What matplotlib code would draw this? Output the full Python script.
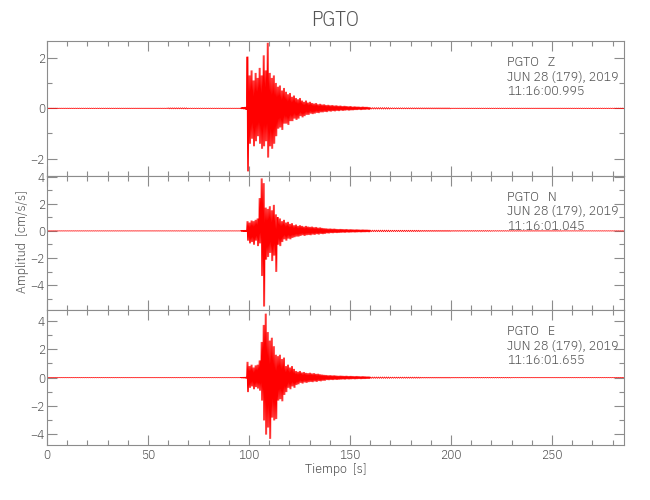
import numpy as np
import matplotlib
matplotlib.use("Agg")
import matplotlib.pyplot as plt
from matplotlib.ticker import MultipleLocator

# ---------------- data ----------------
station = "PGTO"
components = ["Z", "N", "E"]
date_label = "JUN 28 (179), 2019"
start_times = ["11:16:00.995", "11:16:01.045", "11:16:01.655"]

x_max = 285.6
y_limits = [(-2.68, 2.68), (-5.85, 4.07), (-4.75, 4.75)]

# quiet pre-event noise, sampled every 5 s from 0 to 95 s (amplitude)
t_pre = np.arange(0, 100, 5)
pre_Z = [0.01, 0.01, 0.01, 0.01, 0.01, 0.01, 0.01, 0.01, 0.01, 0.01,
         0.01, 0.01, 0.02, 0.02, 0.01, 0.01, 0.01, 0.01, 0.01, 0.01]
pre_N = [0.01, 0.01, 0.01, 0.01, 0.01, 0.01, 0.01, 0.01, 0.01, 0.01,
         0.01, 0.01, 0.01, 0.01, 0.01, 0.01, 0.01, 0.01, 0.01, 0.01]
pre_E = [0.01, 0.01, 0.01, 0.01, 0.01, 0.01, 0.01, 0.01, 0.01, 0.01,
         0.01, 0.01, 0.01, 0.01, 0.01, 0.01, 0.01, 0.01, 0.01, 0.01]

# active part, one (max, min) pair per second from 96 to 159 s
t_act = np.arange(96, 160, 1)
max_Z = [0.02, 0.03, 0.05, 2.05, 1.30, 1.50, 1.10, 1.40, 1.20, 1.60,
         1.30, 2.10, 1.50, 2.60, 1.40, 1.20, 1.30, 1.00, 0.85, 0.90,
         0.70, 0.80, 0.65, 0.55, 0.60, 0.45, 0.50, 0.40, 0.35, 0.40,
         0.30, 0.25, 0.30, 0.22, 0.25, 0.20, 0.18, 0.20, 0.15, 0.17,
         0.14, 0.15, 0.12, 0.13, 0.11, 0.12, 0.10, 0.11, 0.09, 0.10,
         0.08, 0.09, 0.08, 0.07, 0.08, 0.06, 0.07, 0.06, 0.06, 0.05,
         0.06, 0.05, 0.05, 0.04]
min_Z = [-0.02, -0.03, -0.05, -2.50, -1.40, -1.20, -1.50, -1.30, -1.10, -1.40,
         -1.60, -1.50, -1.30, -1.95, -1.50, -1.60, -1.40, -1.10, -0.80, -0.75,
         -0.85, -0.60, -0.60, -0.65, -0.50, -0.50, -0.40, -0.45, -0.40, -0.30,
         -0.35, -0.30, -0.25, -0.25, -0.20, -0.22, -0.20, -0.17, -0.18, -0.15,
         -0.15, -0.13, -0.14, -0.11, -0.12, -0.10, -0.11, -0.09, -0.10, -0.08,
         -0.09, -0.08, -0.07, -0.08, -0.07, -0.07, -0.06, -0.06, -0.05, -0.06,
         -0.05, -0.05, -0.04, -0.05]
max_N = [0.02, 0.03, 0.05, 0.70, 0.60, 0.75, 0.70, 0.80, 0.90, 2.40,
         3.85, 3.50, 1.70, 1.60, 1.80, 1.50, 1.90, 1.20, 1.00, 0.90,
         0.70, 0.80, 0.60, 0.65, 0.50, 0.55, 0.40, 0.45, 0.35, 0.40,
         0.35, 0.30, 0.35, 0.30, 0.28, 0.30, 0.25, 0.27, 0.22, 0.24,
         0.20, 0.18, 0.17, 0.15, 0.16, 0.14, 0.15, 0.13, 0.12, 0.13,
         0.12, 0.11, 0.12, 0.10, 0.11, 0.10, 0.09, 0.10, 0.09, 0.08,
         0.09, 0.08, 0.08, 0.07]
min_N = [-0.02, -0.03, -0.05, -0.70, -0.90, -0.80, -1.00, -0.70, -1.10, -0.90,
         -3.30, -5.55, -2.10, -1.90, -1.60, -2.20, -1.80, -3.00, -1.00, -1.10,
         -0.80, -0.60, -0.70, -0.55, -0.60, -0.50, -0.45, -0.40, -0.40, -0.35,
         -0.30, -0.35, -0.30, -0.28, -0.30, -0.25, -0.27, -0.22, -0.25, -0.20,
         -0.22, -0.20, -0.16, -0.17, -0.14, -0.15, -0.13, -0.14, -0.13, -0.12,
         -0.11, -0.12, -0.10, -0.11, -0.10, -0.09, -0.10, -0.09, -0.08, -0.09,
         -0.08, -0.08, -0.07, -0.08]
max_E = [0.02, 0.03, 0.04, 1.10, 0.80, 0.90, 0.70, 0.85, 0.90, 1.20,
         2.50, 3.70, 4.50, 3.20, 2.60, 2.80, 2.20, 1.60, 1.50, 1.60,
         1.30, 1.40, 0.80, 0.90, 0.70, 0.80, 0.60, 0.45, 0.40, 0.45,
         0.35, 0.38, 0.32, 0.30, 0.33, 0.28, 0.30, 0.25, 0.26, 0.22,
         0.20, 0.18, 0.17, 0.15, 0.16, 0.14, 0.15, 0.13, 0.12, 0.13,
         0.12, 0.11, 0.12, 0.10, 0.11, 0.10, 0.09, 0.10, 0.09, 0.08,
         0.09, 0.08, 0.07, 0.07]
min_E = [-0.02, -0.03, -0.04, -1.00, -0.70, -0.60, -0.80, -0.65, -0.75, -0.90,
         -1.60, -3.00, -4.00, -3.50, -4.30, -2.80, -3.00, -2.90, -1.60, -1.50,
         -1.65, -1.20, -1.00, -0.70, -0.80, -0.60, -0.70, -0.50, -0.45, -0.35,
         -0.40, -0.32, -0.35, -0.30, -0.28, -0.30, -0.25, -0.28, -0.22, -0.24,
         -0.20, -0.20, -0.15, -0.16, -0.14, -0.15, -0.13, -0.14, -0.13, -0.12,
         -0.11, -0.12, -0.10, -0.11, -0.10, -0.09, -0.10, -0.09, -0.08, -0.09,
         -0.08, -0.08, -0.07, -0.07]

# coda noise, sampled every 5 s from 160 to 285 s (amplitude)
t_post = np.arange(160, 286, 5)
post_Z = [0.03, 0.03, 0.02, 0.02, 0.02, 0.02, 0.02, 0.02, 0.01, 0.01,
          0.01, 0.01, 0.01, 0.01, 0.01, 0.01, 0.01, 0.01, 0.01, 0.01,
          0.01, 0.01, 0.01, 0.01, 0.01, 0.01]
post_N = [0.06, 0.06, 0.05, 0.05, 0.05, 0.04, 0.04, 0.04, 0.03, 0.03,
          0.03, 0.03, 0.02, 0.02, 0.02, 0.02, 0.02, 0.02, 0.02, 0.01,
          0.01, 0.01, 0.01, 0.01, 0.01, 0.01]
post_E = [0.05, 0.05, 0.04, 0.04, 0.04, 0.03, 0.03, 0.03, 0.02, 0.02,
          0.02, 0.02, 0.02, 0.02, 0.01, 0.01, 0.01, 0.01, 0.01, 0.01,
          0.01, 0.01, 0.01, 0.01, 0.01, 0.01]

pre_all = [pre_Z, pre_N, pre_E]
max_all = [max_Z, max_N, max_E]
min_all = [min_Z, min_N, min_E]
post_all = [post_Z, post_N, post_E]

# ---------------- helpers ----------------
def zigzag(t, hi, lo, step, reps):
    """Draw each time bin as a dense swing between its maximum and minimum."""
    xs, ys = [], []
    for ti, h, l in zip(t, hi, lo):
        for r in range(reps):
            xs += [ti + step * (2 * r) / (2 * reps),
                   ti + step * (2 * r + 1) / (2 * reps)]
            ys += [h, l]
    return xs, ys

# ---------------- figure ----------------
FONT = ["IBM Plex Sans Condensed", "DejaVu Sans"]
WEIGHT = 300
TXT = "#555555"
SPINE = "#8c8c8c"

fig = plt.figure(figsize=(6.5, 5.0), dpi=100)
left, right = 47 / 650, 624 / 650
bottom, top = 1 - 445 / 500, 1 - 41 / 500
h = (top - bottom) / 3

for i in range(3):
    ax = fig.add_axes([left, top - (i + 1) * h, right - left, h])

    xs, ys = [], []
    a, b = zigzag(t_pre, pre_all[i], [-v for v in pre_all[i]], 5, 5)
    xs += a; ys += b
    a, b = zigzag(t_act, max_all[i], min_all[i], 1, 2)
    xs += a; ys += b
    a, b = zigzag(t_post, post_all[i], [-v for v in post_all[i]], 5, 5)
    xs += a; ys += b
    ax.plot(xs, ys, color="#ff0000", lw=0.55, antialiased=True)

    ax.set_xlim(0, x_max)
    ax.set_ylim(*y_limits[i])
    ax.xaxis.set_major_locator(MultipleLocator(50))
    ax.xaxis.set_minor_locator(MultipleLocator(10))
    ax.yaxis.set_major_locator(MultipleLocator(2))
    ax.yaxis.set_minor_locator(MultipleLocator(1))
    ax.tick_params(which="both", direction="in", top=True, right=True,
                   color=SPINE, labelcolor=TXT, width=0.8)
    ax.tick_params(which="major", length=7.5, pad=1.5, labelsize=9.5)
    ax.tick_params(which="minor", length=3.8)
    for lab in ax.get_yticklabels() + ax.get_xticklabels():
        lab.set_family(FONT)
        lab.set_fontweight(WEIGHT)
    for s in ax.spines.values():
        s.set_color(SPINE)
        s.set_linewidth(0.8)
    if i < 2:
        ax.tick_params(labelbottom=False)
    else:
        ax.tick_params(axis="x", pad=3)

    lines = [f"{station}   {components[i]}", date_label, start_times[i]]
    for k, line in enumerate(lines):
        ax.text(0.797, 0.84 - k * 0.108, line, transform=ax.transAxes,
                ha="left", va="center", fontsize=10, color=TXT,
                family=FONT, fontweight=WEIGHT)

fig.text((left + right) / 2, 1 - 20 / 500, station, ha="center", va="center",
         fontsize=15, color=TXT, family=FONT, fontweight=WEIGHT)
fig.text((left + right) / 2, 1 - 469 / 500, "Tiempo  [s]", ha="center",
         va="center", fontsize=10, color=TXT, family=FONT, fontweight=WEIGHT)
fig.text(23 / 650, 1 - 242 / 500, "Amplitud  [cm/s/s]", ha="center",
         va="center", rotation=90, fontsize=10, color=TXT, family=FONT,
         fontweight=WEIGHT)

fig.savefig("out.png", dpi=100)
